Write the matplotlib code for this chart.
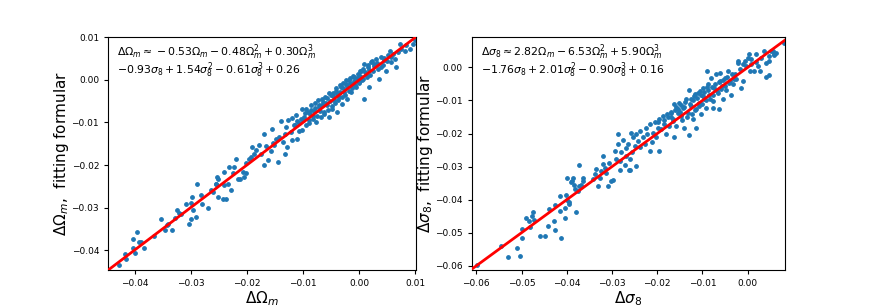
import numpy as np
import matplotlib
matplotlib.use("Agg")
import matplotlib.pyplot as plt

# (true shift, fitting formula) pairs
om_points = [
    (-0.0427, -0.0436), (-0.0417, -0.0410), (-0.0415, -0.0422), (-0.0402, -0.0394),
    (-0.0399, -0.0406), (-0.0402, -0.0374), (-0.0395, -0.0358), (-0.0392, -0.0380),
    (-0.0388, -0.0380), (-0.0383, -0.0394), (-0.0365, -0.0366), (-0.0353, -0.0328),
    (-0.0346, -0.0352), (-0.0343, -0.0340), (-0.0340, -0.0338), (-0.0333, -0.0352),
    (-0.0328, -0.0324), (-0.0324, -0.0306), (-0.0321, -0.0312), (-0.0318, -0.0316),
    (-0.0308, -0.0292), (-0.0303, -0.0338), (-0.0300, -0.0326), (-0.0300, -0.0290),
    (-0.0297, -0.0275), (-0.0296, -0.0306), (-0.0290, -0.0322), (-0.0288, -0.0244),
    (-0.0282, -0.0271), (-0.0279, -0.0291), (-0.0269, -0.0302), (-0.0264, -0.0259),
    (-0.0261, -0.0263), (-0.0255, -0.0245), (-0.0251, -0.0275), (-0.0253, -0.0229),
    (-0.0255, -0.0244), (-0.0251, -0.0232), (-0.0243, -0.0279), (-0.0237, -0.0281),
    (-0.0240, -0.0216), (-0.0240, -0.0248), (-0.0234, -0.0245), (-0.0231, -0.0205),
    (-0.0229, -0.0258), (-0.0225, -0.0219), (-0.0223, -0.0205), (-0.0219, -0.0187),
    (-0.0216, -0.0233), (-0.0212, -0.0233), (-0.0207, -0.0216), (-0.0205, -0.0228),
    (-0.0202, -0.0196), (-0.0202, -0.0219), (-0.0196, -0.0185), (-0.0193, -0.0181),
    (-0.0190, -0.0157), (-0.0187, -0.0173), (-0.0184, -0.0165), (-0.0178, -0.0152),
    (-0.0175, -0.0173), (-0.0169, -0.0128), (-0.0169, -0.0201), (-0.0166, -0.0156),
    (-0.0163, -0.0189), (-0.0157, -0.0168), (-0.0155, -0.0116), (-0.0154, -0.0148),
    (-0.0151, -0.0153), (-0.0148, -0.0140), (-0.0145, -0.0193), (-0.0142, -0.0134),
    (-0.0139, -0.0097), (-0.0136, -0.0146), (-0.0133, -0.0126), (-0.0132, -0.0175),
    (-0.0130, -0.0110), (-0.0128, -0.0157), (-0.0127, -0.0095), (-0.0122, -0.0122),
    (-0.0119, -0.0142), (-0.0116, -0.0106), (-0.0113, -0.0083), (-0.0110, -0.0138),
    (-0.0107, -0.0102), (-0.0104, -0.0091), (-0.0101, -0.0118),
    (-0.0101, -0.0068), (-0.0098, -0.0088), (-0.0095, -0.0107), (-0.0092, -0.0076),
    (-0.0089, -0.0095), (-0.0086, -0.0060), (-0.0083, -0.0084), (-0.0080, -0.0072),
    (-0.0077, -0.0099), (-0.0074, -0.0048), (-0.0071, -0.0064), (-0.0068, -0.0088),
    (-0.0065, -0.0052), (-0.0062, -0.0076), (-0.0061, -0.0040), (-0.0057, -0.0060),
    (-0.0054, -0.0088), (-0.0051, -0.0036), (-0.0048, -0.0068), (-0.0045, -0.0048),
    (-0.0042, -0.0025), (-0.0039, -0.0076), (-0.0036, -0.0040), (-0.0033, -0.0017),
    (-0.0030, -0.0056), (-0.0027, -0.0029), (-0.0024, -0.0009), (-0.0021, -0.0044),
    (-0.0018, -0.0001), (-0.0015, -0.0029), (-0.0012, -0.0009), (-0.0009, 0.0007),
    (-0.0006, -0.0017), (-0.0003, 0.0014), (0.0000, -0.0005), (0.0003, 0.0022),
    (0.0006, 0.0003), (0.0008, -0.0044), (0.0009, 0.0038), (0.0012, 0.0014),
    (0.0015, 0.0030), (0.0018, -0.0017), (0.0021, 0.0042), (0.0024, 0.0022),
    (0.0027, 0.0038), (0.0030, 0.0050), (0.0033, 0.0026), (0.0036, 0.0003),
    (0.0039, 0.0054), (0.0042, 0.0034), (0.0045, 0.0046), (0.0048, 0.0022),
    (0.0051, 0.0058), (0.0054, 0.0069), (0.0057, 0.0042), (0.0060, 0.0061),
    (0.0063, 0.0050), (0.0066, 0.0030), (0.0069, 0.0065), (0.0072, 0.0085),
    (0.0075, 0.0073), (0.0081, 0.0069), (0.0084, 0.0081), (0.0090, 0.0073),
    (0.0096, 0.0085), (0.0100, 0.0093),
    (-0.0115, -0.0105), (-0.0108, -0.0120), (-0.0100, -0.0095), (-0.0096, -0.0078),
    (-0.0090, -0.0102), (-0.0087, -0.0080), (-0.0082, -0.0092), (-0.0078, -0.0065),
    (-0.0075, -0.0085), (-0.0070, -0.0072), (-0.0066, -0.0060), (-0.0063, -0.0080),
    (-0.0059, -0.0055), (-0.0056, -0.0070), (-0.0052, -0.0050), (-0.0049, -0.0062),
    (-0.0046, -0.0038), (-0.0043, -0.0055), (-0.0040, -0.0032), (-0.0037, -0.0048),
    (-0.0034, -0.0028), (-0.0031, -0.0040), (-0.0028, -0.0020), (-0.0025, -0.0035),
    (-0.0022, -0.0015), (-0.0019, -0.0026), (-0.0016, -0.0008), (-0.0013, -0.0020),
    (-0.0010, -0.0002), (-0.0007, -0.0012), (-0.0004, 0.0004), (-0.0001, -0.0008),
    (0.0002, 0.0010), (0.0005, 0.0000), (0.0010, 0.0018), (0.0013, 0.0008),
    (0.0017, 0.0024), (0.0020, 0.0012), (0.0026, 0.0032), (0.0032, 0.0040),
    (0.0038, 0.0030), (0.0044, 0.0052), (0.0050, 0.0044), (0.0056, 0.0055),
    (-0.0120, -0.0090), (-0.0111, -0.0096), (-0.0094, -0.0068), (-0.0085, -0.0070),
    (-0.0079, -0.0055), (-0.0072, -0.0058), (-0.0067, -0.0045), (-0.0058, -0.0042),
    (-0.0053, -0.0030), (-0.0047, -0.0030), (-0.0041, -0.0020), (-0.0035, -0.0012),
    (-0.0029, -0.0008), (-0.0023, 0.0000), (-0.0017, 0.0004), (-0.0011, 0.0010),
    (0.0001, 0.0020), (0.0007, 0.0026), (0.0016, 0.0036), (0.0023, 0.0045),
]

# same for the right panel
s8_points = [
    (-0.0599, -0.0597), (-0.0545, -0.0540), (-0.0529, -0.0574), (-0.0511, -0.0546),
    (-0.0503, -0.0570), (-0.0500, -0.0517), (-0.0500, -0.0489), (-0.0491, -0.0456),
    (-0.0483, -0.0464), (-0.0481, -0.0482), (-0.0477, -0.0448), (-0.0475, -0.0438),
    (-0.0472, -0.0462), (-0.0460, -0.0511), (-0.0448, -0.0510), (-0.0441, -0.0479),
    (-0.0439, -0.0428), (-0.0429, -0.0464), (-0.0426, -0.0492), (-0.0426, -0.0416),
    (-0.0416, -0.0434), (-0.0413, -0.0515), (-0.0414, -0.0389), (-0.0404, -0.0425),
    (-0.0404, -0.0455), (-0.0401, -0.0385), (-0.0399, -0.0401), (-0.0396, -0.0408),
    (-0.0394, -0.0413), (-0.0400, -0.0335), (-0.0389, -0.0343), (-0.0391, -0.0346),
    (-0.0385, -0.0355), (-0.0382, -0.0368), (-0.0379, -0.0437), (-0.0376, -0.0373),
    (-0.0373, -0.0358), (-0.0369, -0.0357),
    (-0.0386, -0.0335), (-0.0373, -0.0294), (-0.0364, -0.0345), (-0.0363, -0.0333),
    (-0.0342, -0.0338), (-0.0338, -0.0321), (-0.0335, -0.0307), (-0.0331, -0.0358),
    (-0.0327, -0.0333), (-0.0324, -0.0313), (-0.0320, -0.0292), (-0.0320, -0.0267),
    (-0.0316, -0.0303), (-0.0313, -0.0318), (-0.0309, -0.0358), (-0.0307, -0.0290),
    (-0.0302, -0.0343), (-0.0298, -0.0341), (-0.0294, -0.0252), (-0.0291, -0.0277),
    (-0.0287, -0.0200), (-0.0287, -0.0232), (-0.0283, -0.0310), (-0.0282, -0.0282),
    (-0.0279, -0.0257), (-0.0276, -0.0220), (-0.0272, -0.0294), (-0.0270, -0.0245),
    (-0.0268, -0.0267), (-0.0265, -0.0232), (-0.0263, -0.0310), (-0.0261, -0.0277),
    (-0.0260, -0.0310), (-0.0257, -0.0197), (-0.0255, -0.0257), (-0.0254, -0.0212),
    (-0.0250, -0.0237), (-0.0246, -0.0202), (-0.0246, -0.0297), (-0.0243, -0.0222),
    (-0.0239, -0.0192), (-0.0238, -0.0242), (-0.0232, -0.0212), (-0.0228, -0.0232),
    (-0.0224, -0.0182), (-0.0223, -0.0202), (-0.0217, -0.0252), (-0.0215, -0.0171),
    (-0.0211, -0.0227), (-0.0210, -0.0197), (-0.0206, -0.0166), (-0.0202, -0.0212),
    (-0.0199, -0.0182), (-0.0196, -0.0252), (-0.0195, -0.0156), (-0.0191, -0.0186),
    (-0.0188, -0.0146), (-0.0184, -0.0171), (-0.0180, -0.0202), (-0.0177, -0.0151),
    (-0.0173, -0.0176), (-0.0169, -0.0136), (-0.0166, -0.0161), (-0.0162, -0.0212),
    (-0.0158, -0.0121), (-0.0155, -0.0139),
    (-0.0169, -0.0137), (-0.0166, -0.0157), (-0.0162, -0.0112), (-0.0158, -0.0177),
    (-0.0155, -0.0127), (-0.0151, -0.0107), (-0.0147, -0.0147), (-0.0143, -0.0122),
    (-0.0140, -0.0182), (-0.0136, -0.0097), (-0.0132, -0.0137), (-0.0130, -0.0203),
    (-0.0129, -0.0067), (-0.0125, -0.0117), (-0.0121, -0.0157), (-0.0118, -0.0087),
    (-0.0115, -0.0182), (-0.0114, -0.0127), (-0.0110, -0.0077), (-0.0107, -0.0107),
    (-0.0103, -0.0142), (-0.0099, -0.0061), (-0.0096, -0.0097), (-0.0092, -0.0122),
    (-0.0091, -0.0011), (-0.0088, -0.0051), (-0.0085, -0.0082), (-0.0081, -0.0031),
    (-0.0077, -0.0102), (-0.0076, -0.0122), (-0.0074, -0.0061), (-0.0070, -0.0021),
    (-0.0066, -0.0077), (-0.0064, -0.0127), (-0.0062, -0.0041), (-0.0061, -0.0016),
    (-0.0057, -0.0056), (-0.0055, -0.0097), (-0.0051, -0.0031), (-0.0048, -0.0067),
    (-0.0044, -0.0011), (-0.0040, -0.0041), (-0.0037, -0.0082), (-0.0033, -0.0051),
    (-0.0029, -0.0021), (-0.0026, -0.0036), (-0.0022, 0.0014), (-0.0018, -0.0006),
    (-0.0015, -0.0061), (-0.0011, -0.0041), (-0.0007, 0.0019), (-0.0004, 0.0004),
    (0.0000, 0.0029), (0.0004, -0.0011), (0.0008, 0.0009), (0.0015, -0.0011),
    (0.0019, 0.0039), (0.0022, 0.0004), (0.0027, -0.0011), (0.0030, 0.0029),
    (0.0037, 0.0050), (0.0041, 0.0014), (0.0046, -0.0023), (0.0048, 0.0034),
    (0.0055, 0.0050), (0.0059, 0.0039), (0.0063, 0.0044), (0.0081, 0.0075),
    (0.0041, -0.0030), (0.0048, 0.0020), (0.0008, 0.0025), (0.0019, 0.0015),
    (0.0052, 0.0050), (0.0059, 0.0038), (-0.0022, 0.0020), (-0.0011, 0.0010),
    (0.0002, 0.0040),
    (-0.0150, -0.0135), (-0.0145, -0.0160), (-0.0140, -0.0120), (-0.0135, -0.0150),
    (-0.0128, -0.0110), (-0.0124, -0.0140), (-0.0120, -0.0100), (-0.0116, -0.0130),
    (-0.0112, -0.0092), (-0.0108, -0.0118), (-0.0104, -0.0085), (-0.0100, -0.0110),
    (-0.0096, -0.0075), (-0.0092, -0.0100), (-0.0088, -0.0068), (-0.0084, -0.0095),
    (-0.0080, -0.0060), (-0.0076, -0.0085), (-0.0072, -0.0050), (-0.0068, -0.0070),
    (-0.0064, -0.0045), (-0.0060, -0.0065), (-0.0055, -0.0038), (-0.0050, -0.0055),
    (-0.0046, -0.0028), (-0.0042, -0.0048), (-0.0035, -0.0020), (-0.0030, -0.0035),
    (-0.0198, -0.0165), (-0.0186, -0.0160), (-0.0178, -0.0140), (-0.0170, -0.0150),
    (-0.0160, -0.0130), (-0.0148, -0.0115), (-0.0138, -0.0105), (-0.0126, -0.0095),
    (-0.0117, -0.0080), (-0.0106, -0.0070), (-0.0098, -0.0088), (-0.0090, -0.0060),
]

om_lim = (-0.0447, 0.0101)
s8_xlim = (-0.0610, 0.0082)
s8_ylim = (-0.0613, 0.0092)
om_ticks = [-0.04, -0.03, -0.02, -0.01, 0.00, 0.01]
s8_ticks = [-0.06, -0.05, -0.04, -0.03, -0.02, -0.01, 0.00]

om_text = ["$\\Delta\\Omega_m \\approx -0.53\\Omega_m - 0.48\\Omega_m^2 + 0.30\\Omega_m^3$",
           "$-0.93\\sigma_8 + 1.54\\sigma_8^2 - 0.61\\sigma_8^3 + 0.26$"]
s8_text = ["$\\Delta\\sigma_8 \\approx 2.82\\Omega_m - 6.53\\Omega_m^2 + 5.90\\Omega_m^3$",
           "$-1.76\\sigma_8 + 2.01\\sigma_8^2 - 0.90\\sigma_8^3 + 0.16$"]

fig = plt.figure(figsize=(8.72, 3.08), dpi=100)
ax1 = fig.add_axes([0.124, 0.123, 0.353, 0.757])
ax2 = fig.add_axes([0.541, 0.123, 0.359, 0.757])


def panel(ax, pts, xlim, ylim, ticks, text, label):
    pts = np.array(pts)
    ax.scatter(pts[:, 0], pts[:, 1], s=6, color='#1f77b4', zorder=2)
    line = np.array([-0.1, 0.1])
    ax.plot(line, line, color='red', lw=2, zorder=3)
    ax.set_xlim(*xlim)
    ax.set_ylim(*ylim)
    ax.set_xticks(ticks)
    ax.set_yticks(ticks)
    ax.tick_params(labelsize=6.5, length=3)
    ax.text(0.03, 0.935, text[0], transform=ax.transAxes, fontsize=7.8,
            va='center', ha='left')
    ax.text(0.03, 0.858, text[1], transform=ax.transAxes, fontsize=7.8,
            va='center', ha='left')
    ax.set_xlabel(label, fontsize=11, labelpad=1)
    ax.set_ylabel(label + ",  fitting formular", fontsize=11, labelpad=0)


panel(ax1, om_points, om_lim, om_lim, om_ticks, om_text, "$\\Delta\\Omega_m$")
panel(ax2, s8_points, s8_xlim, s8_ylim, s8_ticks, s8_text, "$\\Delta\\sigma_8$")

fig.savefig("out.png", dpi=100)
